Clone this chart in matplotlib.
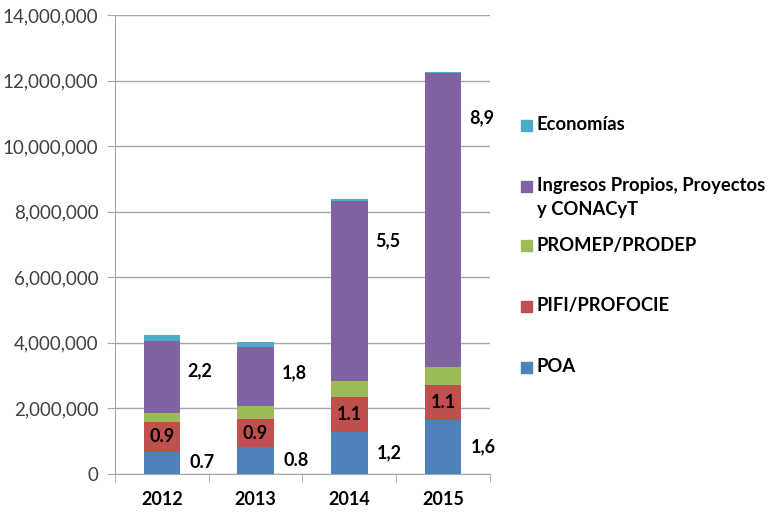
##########################################################################################
################################### Importing Packages ####################################
##########################################################################################
import numpy as np
import matplotlib
matplotlib.use('Agg')
import matplotlib.pyplot as plt
from matplotlib.ticker import FuncFormatter
from matplotlib.patches import Rectangle

##########################################################################################
######################################### Data ###########################################
##########################################################################################
years = ['2012', '2013', '2014', '2015']
poa = [680000, 830000, 1290000, 1640000]
pifi = [910000, 840000, 1070000, 1060000]
promep = [270000, 400000, 470000, 560000]
ingresos = [2210000, 1810000, 5510000, 8960000]
economias = [180000, 150000, 40000, 50000]

poa_labels = ['0.7', '0.8', '1,2', '1,6']
pifi_labels = ['0.9', '0.9', '1.1', '1.1']
ingresos_labels = ['2,2', '1,8', '5,5', '8,9']

series_names = ['POA', 'PIFI/PROFOCIE', 'PROMEP/PRODEP',
                'Ingresos Propios, Proyectos\ny CONACyT', 'Economías']
colors = ['#4F81BD', '#C0504D', '#9BBB59', '#8064A2', '#4BACC6']

##########################################################################################
######################################## Plotting ########################################
##########################################################################################
plt.rcParams['font.family'] = ['Lato', 'DejaVu Sans']

W, H = 769, 512
fig = plt.figure(figsize=(W / 100, H / 100), dpi=100)
ax = fig.add_axes([0.1495, 0.0742, 0.4875, 0.8965])

x = np.arange(len(years))
width = 0.39
bottom = np.zeros(len(years))
tops = []
for vals, col in zip([poa, pifi, promep, ingresos, economias], colors):
    ax.bar(x, vals, width, bottom=bottom, color=col, zorder=3)
    tops.append(bottom.copy())
    bottom = bottom + np.array(vals)

# data labels
for i in range(len(years)):
    ax.text(x[i] + width / 2 + 0.1, poa[i] * 0.5, poa_labels[i],
            ha='left', va='center', fontsize=13, fontweight='bold')
    ax.text(x[i], tops[1][i] + pifi[i] / 2, pifi_labels[i],
            ha='center', va='center', fontsize=13, fontweight='bold')

# purple labels sit at different heights within the segment (as in the original)
ing_frac = [0.59, 0.56, 0.78, 0.85]
for i in range(len(years)):
    ax.text(x[i] + width / 2 + 0.08, tops[3][i] + ingresos[i] * ing_frac[i], ingresos_labels[i],
            ha='left', va='center', fontsize=13, fontweight='bold')

ax.set_xlim(-0.5, 3.5)
ax.set_ylim(0, 14000000)
ax.set_yticks(np.arange(0, 14000001, 2000000))
ax.yaxis.set_major_formatter(FuncFormatter(lambda v, p: '{:,.0f}'.format(v)))
ax.grid(axis='y', color='#A6A6A6', linewidth=1, zorder=0)

ax.set_xticks(x)
ax.set_xticklabels(years, fontsize=13, fontweight='bold')
ax.set_xticks(np.arange(-0.5, 3.6, 1), minor=True)
ax.tick_params(axis='x', which='major', length=0, pad=12)
ax.tick_params(axis='x', which='minor', length=6, color='#A6A6A6', direction='out')
ax.tick_params(axis='y', length=6, color='#A6A6A6', labelsize=13.5, labelcolor='#404040', pad=6)

for s in ['top', 'right']:
    ax.spines[s].set_visible(False)
ax.spines['left'].set_color('#A6A6A6')
ax.spines['bottom'].set_color('#A6A6A6')

# legend drawn by hand, Excel style: wide gaps, top entry = last series
legend_rows = [367, 306, 245, 186, 125]   # pixel rows of the first text line
line_gap = 23
for name, col, row in zip(series_names, colors, legend_rows):
    fig.patches.append(Rectangle((521 / W, 1 - (row + 5.5) / H), 11 / W, 11 / H,
                                 transform=fig.transFigure, color=col))
    for k, line in enumerate(name.split('\n')):
        fig.text(537 / W, 1 - (row + k * line_gap) / H, line, ha='left', va='center',
                 fontsize=13.2, fontweight='bold')

plt.savefig('out.png', dpi=100)
